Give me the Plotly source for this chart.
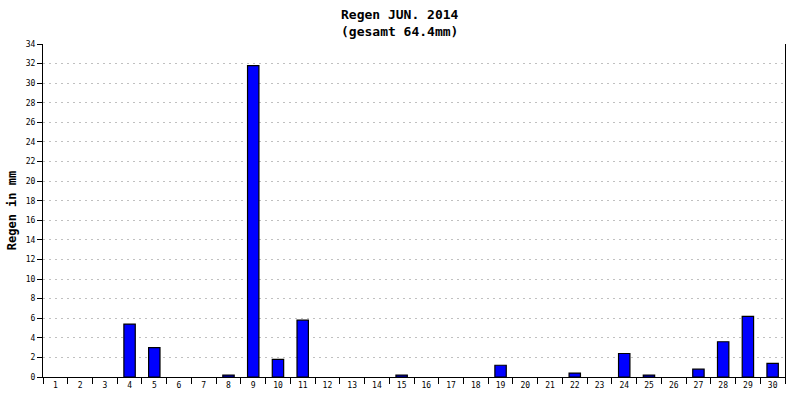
import plotly.graph_objects as go

# Daily rainfall, June 2014
days = [str(d) for d in range(1, 31)]
rain_mm = [0, 0, 0, 5.4, 3.0, 0, 0, 0.2, 31.8, 1.8,
           5.8, 0, 0, 0, 0.2, 0, 0, 0, 1.2, 0,
           0, 0.4, 0, 2.4, 0.2, 0, 0.8, 3.6, 6.2, 1.4]
y_ticks = list(range(0, 35, 2))

font = "DejaVu Sans Mono"

# days without rain get no bar at all (no outline either)
shown = [v if v > 0 else None for v in rain_mm]

fig = go.Figure()
fig.add_trace(go.Bar(
    x=days, y=shown,
    marker=dict(color="#0000ff", line=dict(color="black", width=1.2)),
))

fig.update_layout(
    width=800, height=400,
    margin=dict(l=43, r=15, t=44, b=23),
    paper_bgcolor="white", plot_bgcolor="white",
    bargap=0.54,
    showlegend=False,
)

# two-line title, centred on the whole image
fig.add_annotation(
    text="<b>Regen JUN. 2014<br>(gesamt 64.4mm)</b>",
    xref="paper", yref="paper", x=(400 - 43) / 742, y=1,
    xanchor="center", yanchor="bottom", yshift=3, showarrow=False,
    font=dict(family=font, size=13, color="black"),
)

fig.update_xaxes(
    type="category", tickson="boundaries", automargin=False,
    ticks="outside", ticklen=6, tickcolor="black", tickwidth=1,
    showline=True, linecolor="black", linewidth=1,
    showgrid=False,
    tickfont=dict(family=font, size=8, color="black"),
)

fig.update_yaxes(
    range=[0, 34], tickvals=y_ticks, automargin=False,
    ticks="outside", ticklen=5, tickcolor="black",
    showline=True, linecolor="black", linewidth=1, mirror=True,
    showgrid=True, gridcolor="#c0c0c0", griddash="2px,4px", gridwidth=1,
    zeroline=False,
    tickfont=dict(family=font, size=8, color="black"),
    title=dict(text="<b>Regen in mm</b>", standoff=6,
               font=dict(family=font, size=12, color="black")),
)

fig.write_html("out.html", config={"displayModeBar": False},
               post_script="document.body.style.margin='0';")
